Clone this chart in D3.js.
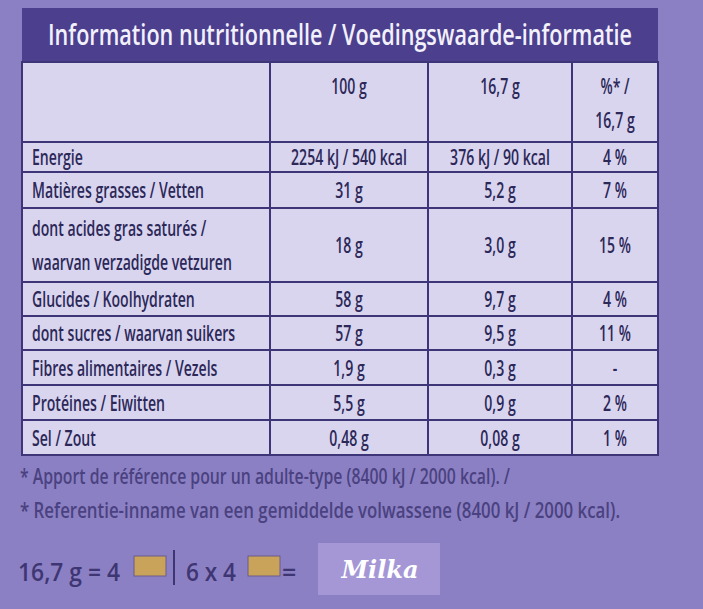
<!DOCTYPE html><html><head><meta charset="utf-8">
<script src="https://cdn.jsdelivr.net/npm/d3@7"></script>
<style>body{margin:0;background:#8c80c4}</style></head><body>
<script>
const title="Information nutritionnelle / Voedingswaarde-informatie";
const headers=["","100 g","16,7 g","%* /\n16,7 g"];
const nutrients=["Energie","Matières grasses / Vetten","dont acides gras saturés /\nwaarvan verzadigde vetzuren","Glucides / Koolhydraten","dont sucres / waarvan suikers","Fibres alimentaires / Vezels","Protéines / Eiwitten","Sel / Zout"];
const per100=["2254 kJ / 540 kcal","31 g","18 g","58 g","57 g","1,9 g","5,5 g","0,48 g"];
const perPortion=["376 kJ / 90 kcal","5,2 g","3,0 g","9,7 g","9,5 g","0,3 g","0,9 g","0,08 g"];
const pct=["4 %","7 %","15 %","4 %","11 %","-","2 %","1 %"];
const rowH=[80,30,36,74,34,34,35,35,35];
const notes=["* Apport de référence pour un adulte-type (8400 kJ / 2000 kcal). /","* Referentie-inname van een gemiddelde volwassene (8400 kJ / 2000 kcal)."];
const font="'Open Sans','DejaVu Sans',sans-serif";
const SQ=0.64;
const W=703,H=609;
const svg=d3.select("body").append("svg").attr("width",W).attr("height",H);
svg.append("rect").attr("width",W).attr("height",H).attr("fill","#8c80c4");
function squeeze(sel,f){sel.each(function(){const L=this.getComputedTextLength();d3.select(this).attr("textLength",L*f).attr("lengthAdjust","spacingAndGlyphs");});}
function fit(sel,w){sel.attr("textLength",w).attr("lengthAdjust","spacingAndGlyphs");}
const x=d3.scaleOrdinal().domain([0,1,2,3,4]).range([22,270,428,572,658]);
const ys=[62];rowH.forEach(h=>ys.push(ys[ys.length-1]+h));
svg.append("rect").attr("x",22).attr("y",8).attr("width",636).attr("height",54).attr("fill","#4b3f8e");
svg.append("text").attr("x",48).attr("y",45).attr("font-family",font).attr("font-weight","600").attr("font-size",29).attr("fill","#f2f0fa").text(title).call(fit,584);
svg.append("rect").attr("x",22).attr("y",62).attr("width",636).attr("height",ys[ys.length-1]-62).attr("fill","#d9d5ef").attr("stroke","#3e3578").attr("stroke-width",2);
ys.slice(1,-1).forEach(y=>svg.append("line").attr("x1",22).attr("x2",658).attr("y1",y).attr("y2",y).attr("stroke","#3e3578").attr("stroke-width",2));
[1,2,3].forEach(i=>svg.append("line").attr("x1",x(i)).attr("x2",x(i)).attr("y1",62).attr("y2",ys[ys.length-1]).attr("stroke","#3e3578").attr("stroke-width",2));
function cell(txt,col,row,anchor){
  const lines=txt.split("\n");const y0=ys[row],h=rowH[row];
  const cx=anchor==="start"?x(col)+10:(x(col)+x(col+1))/2;
  const lh=34;const start=row===0?y0+32:y0+h/2+8-(lines.length-1)*lh/2;
  lines.forEach((l,i)=>svg.append("text").attr("font-family",font).attr("font-weight","600").attr("font-size",22).attr("fill","#2c2858").attr("text-anchor",anchor).attr("x",cx).attr("y",start+i*lh).text(l).call(squeeze,SQ));
}
headers.forEach((hd,i)=>{if(hd)cell(hd,i,0,"middle")});
nutrients.forEach((n,r)=>{cell(n,0,r+1,"start");cell(per100[r],1,r+1,"middle");cell(perPortion[r],2,r+1,"middle");cell(pct[r],3,r+1,"middle");});
const noteW=[490,600];
notes.forEach((n,i)=>svg.append("text").attr("x",20).attr("y",484+i*34).attr("font-family",font).attr("font-weight","600").attr("font-size",21).attr("fill","#4a4280").text(n).call(fit,noteW[i]));
const g=svg.append("g").attr("font-family",font).attr("font-weight","600").attr("font-size",25).attr("fill","#3e3672");
g.append("text").attr("x",18).attr("y",581).text("16,7 g = 4").call(fit,102);
g.append("rect").attr("x",134).attr("y",556).attr("width",32).attr("height",20).attr("fill","#c9a35a").attr("stroke","#6a5a8a");
g.append("line").attr("x1",174).attr("x2",174).attr("y1",550).attr("y2",585).attr("stroke","#3e3672").attr("stroke-width",2);
g.append("text").attr("x",186).attr("y",581).text("6 x 4").call(fit,50);
g.append("rect").attr("x",248).attr("y",556).attr("width",32).attr("height",20).attr("fill","#c9a35a").attr("stroke","#6a5a8a");
g.append("text").attr("x",282).attr("y",581).text("=");
svg.append("rect").attr("x",318).attr("y",543).attr("width",122).attr("height",52).attr("fill","#a597d6");
svg.append("text").attr("x",380).attr("y",578).attr("text-anchor","middle").attr("font-family","DejaVu Serif,serif").attr("font-style","italic").attr("font-weight","bold").attr("font-size",24).attr("fill","#fff").text("Milka");
</script></body></html>
